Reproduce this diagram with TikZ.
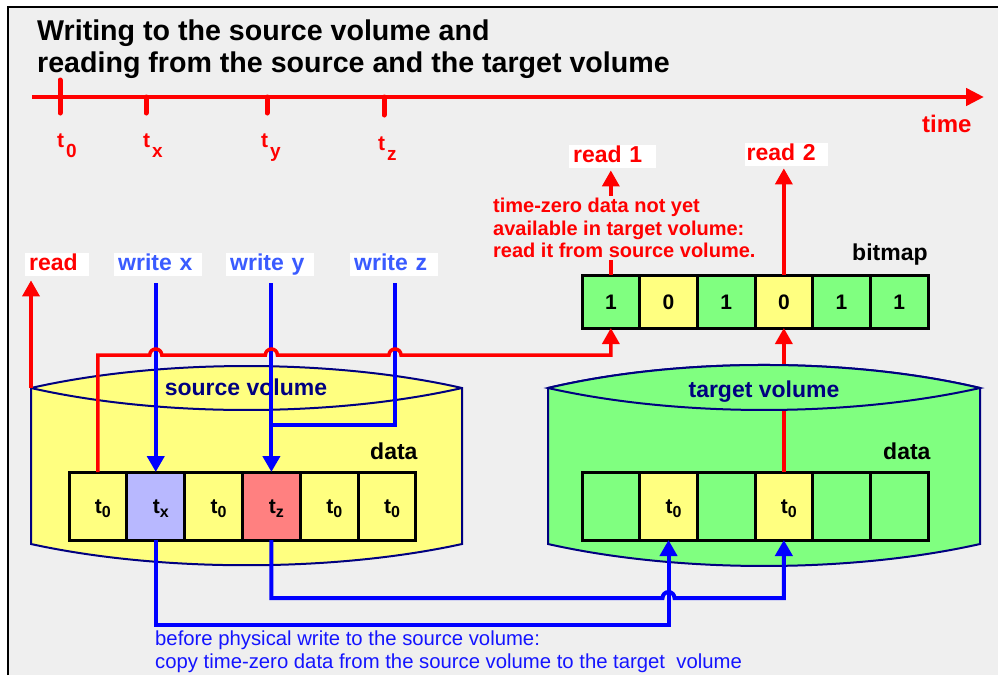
\documentclass[tikz,border=0pt]{standalone}
\usepackage{fontspec}
\setmainfont{Liberation Sans}
\usetikzlibrary{arrows.meta,calc}

\definecolor{pagebg}{HTML}{EFEFEF}
\definecolor{hotred}{HTML}{FF0000}
\definecolor{wireblue}{HTML}{0000FF}
\definecolor{tagblue}{HTML}{3A5BFF}
\definecolor{textblue}{HTML}{1414FF}
\definecolor{drumline}{HTML}{000080}
\definecolor{paleyellow}{HTML}{FFFF80}
\definecolor{palegreen}{HTML}{80FF80}
\definecolor{lavender}{HTML}{B8B8FF}
\definecolor{salmon}{HTML}{FF8080}

\newcommand\fsz[2]{\fontsize{#1pt}{#2pt}\selectfont}
% cell label: "t" with a lowered index
\newcommand\cellt[1]{\kern10pt t\raisebox{-4pt}{\fsz{16}{16}#1}}
% time-line label: "t" with a strongly lowered index
\newcommand\tickt[1]{t\kern2pt\raisebox{-10pt}{\fsz{19}{19}#1}}

\begin{document}
\begin{tikzpicture}[x=1pt,y=-1pt,
  tag/.style={fill=white, anchor=north west, inner xsep=4pt, inner ysep=1pt,
    text height=16.5pt, text depth=4.5pt, align=left, font=\bfseries\fsz{23}{23}},
  cell/.style={draw=black, line width=3pt, inner sep=0pt, outer sep=0pt,
    minimum height=68pt, text height=15pt, text depth=0pt, font=\bfseries\fsz{21}{21}},
  bitcell/.style={cell, minimum height=53pt, minimum width=57.67pt},
  srccell/.style={cell, minimum width=57.83pt},
  tgtcell/.style={cell, minimum width=57.67pt},
  drum/.style={draw=drumline, line width=2pt},
  redwire/.style={draw=hotred, line width=3.5pt},
  bluewire/.style={draw=wireblue, line width=4pt},
  redarrow/.style={redwire, -{Triangle[length=16pt,width=17pt]}},
  bluearrow/.style={bluewire, -{Triangle[length=16pt,width=17pt]}},
  ticker/.style={draw=hotred, line width=5pt, line cap=round},
  txt/.style={inner sep=0pt, anchor=base west},
]
\useasboundingbox (0,0) rectangle (998,675);
\fill[white] (0,0) rectangle (998,675);
\fill[pagebg] (8,7) rectangle (998,675);
\draw[black, line width=2pt] (8,675) -- (8,7) -- (998,7);

% heading
\node[txt, font=\bfseries\fsz{28.6}{28.6}] (head1) at (37,40) {Writing to the source volume and};
\node[txt, font=\bfseries\fsz{28.6}{28.6}] (head2) at (37,72.5) {reading from the source and the target volume};

% time line
\coordinate (tl0) at (32,97);
\coordinate (tl1) at (984,97);
\draw[draw=hotred, line width=4.5pt, -{Triangle[length=18pt,width=17pt]}] (tl0) -- (tl1);
\draw[ticker] (60,80) -- (60,113);
\draw[ticker] (146,97) -- (146,113);
\draw[ticker] (267,97) -- (267,113);
\draw[ticker] (384,97) -- (384,115);
\node[txt, text=hotred, font=\bfseries\fsz{21}{21}] (lt0) at (57,147) {\tickt{0}};
\node[txt, text=hotred, font=\bfseries\fsz{21}{21}] (ltx) at (143,147) {\tickt{x}};
\node[txt, text=hotred, font=\bfseries\fsz{21}{21}] (lty) at (261,147) {\tickt{y}};
\node[txt, text=hotred, font=\bfseries\fsz{21}{21}] (ltz) at (378,150) {\tickt{z}};
\node[txt, text=hotred, font=\bfseries\fsz{24}{24}] (ltime) at (922,132) {time};

% label tags
\node[tag, text=hotred, text width=56pt] (rdbox) at (25,253) {read};
\node[tag, text=tagblue, text width=80pt] (wxbox) at (114,253) {write x};
\node[tag, text=tagblue, text width=80pt] (wybox) at (226,253) {write y};
\node[tag, text=tagblue, text width=80pt] (wzbox) at (350,253) {write z};
\node[tag, text=hotred, text width=79pt, minimum height=22pt] (r1box) at (569,145) {read 1};
\node[tag, text=hotred, text width=80pt, inner xsep=1.5pt] (r2box) at (745,143) {read 2};

% source volume
\filldraw[drum, fill=paleyellow] (31,388) .. controls (160,358.7) and (333,358.7) .. (462,388)
  -- (462,544) .. controls (333,572.3) and (160,572.3) .. (31,544) -- cycle;
\draw[drum] (31,388) .. controls (160,417.3) and (333,417.3) .. (462,388);
\node[txt, anchor=base, text=drumline, font=\bfseries\fsz{23}{23}] (srcname) at (246,395) {source volume};
\node[txt, font=\bfseries\fsz{23}{23}] (srcdata) at (370,459) {data};

% target volume
\filldraw[drum, fill=palegreen] (548,388) .. controls (678,357.3) and (850,357.3) .. (980,388)
  -- (980,544) .. controls (850,573.3) and (678,573.3) .. (548,544) -- cycle;
\node[txt, font=\bfseries\fsz{23}{23}] (tgtdata) at (883,459) {data};

% source data cells
\node[srccell, fill=paleyellow] (s1) at ({69+57.83*0.5},506) {\cellt{0}};
\node[srccell, fill=lavender]   (s2) at ({69+57.83*1.5},506) {\cellt{x}};
\node[srccell, fill=paleyellow] (s3) at ({69+57.83*2.5},506) {\cellt{0}};
\node[srccell, fill=salmon]     (s4) at ({69+57.83*3.5},506) {\cellt{z}};
\node[srccell, fill=paleyellow] (s5) at ({69+57.83*4.5},506) {\cellt{0}};
\node[srccell, fill=paleyellow] (s6) at ({69+57.83*5.5},506) {\cellt{0}};

% target data cells
\node[tgtcell, fill=palegreen]  (t1) at ({582+57.67*0.5},506) {};
\node[tgtcell, fill=paleyellow] (t2) at ({582+57.67*1.5},506) {\cellt{0}};
\node[tgtcell, fill=palegreen]  (t3) at ({582+57.67*2.5},506) {};
\node[tgtcell, fill=paleyellow] (t4) at ({582+57.67*3.5},506) {\cellt{0}};
\node[tgtcell, fill=palegreen]  (t5) at ({582+57.67*4.5},506) {};
\node[tgtcell, fill=palegreen]  (t6) at ({582+57.67*5.5},506) {};

% bitmap
\node[bitcell, fill=palegreen]  (b1) at ({582+57.67*0.5},301.5) {1};
\node[bitcell, fill=paleyellow] (b2) at ({582+57.67*1.5},301.5) {0};
\node[bitcell, fill=palegreen]  (b3) at ({582+57.67*2.5},301.5) {1};
\node[bitcell, fill=paleyellow] (b4) at ({582+57.67*3.5},301.5) {0};
\node[bitcell, fill=palegreen]  (b5) at ({582+57.67*4.5},301.5) {1};
\node[bitcell, fill=palegreen]  (b6) at ({582+57.67*5.5},301.5) {1};
\node[txt, font=\bfseries\fsz{23}{23}] (bitname) at (852,260) {bitmap};

% levels of the horizontal runs
\coordinate (redbus) at (0,355);
\coordinate (zjoin) at (395,425);
\coordinate (lowA) at (0,598);
\coordinate (lowB) at (0,625);
\coordinate (srcTL) at (31,388);

% reads
\draw[redarrow, shorten >=4pt] (srcTL) -- (srcTL |- rdbox.south);
\draw[redarrow, shorten >=2pt] (b1.north) -- (b1.north |- r1box.south);
\draw[redarrow, shorten >=2pt] (b4.north) -- (b4.north |- r2box.south);

% writes
\draw[bluearrow, shorten <=7pt] (s2.north |- wxbox.south) -- (s2.north);
\draw[bluearrow, shorten <=7pt] (s4.north |- wybox.south) -- (s4.north);
\draw[bluewire, shorten <=7pt] (zjoin |- wzbox.south) -- (zjoin) -- (s4.north |- zjoin);

% source t0 block read through the bitmap, hopping over the write lines
\draw[redarrow] (s1.north) |- ($(s2.north |- redbus)+(-6,0)$)
  arc[start angle=180, end angle=360, radius=6]
  -- ($(s4.north |- redbus)+(-6,0)$)
  arc[start angle=180, end angle=360, radius=6]
  -- ($(zjoin |- redbus)+(-6,0)$)
  arc[start angle=180, end angle=360, radius=6]
  -| (b1.south);

% target t0 block reported to the bitmap
\draw[redarrow] (t4.north) -- (b4.south);
\filldraw[drum, fill=palegreen] (548,388) .. controls (678,357.3) and (850,357.3) .. (980,388)
  .. controls (850,417.3) and (678,417.3) .. (548,388) -- cycle;
\node[txt, anchor=base, text=drumline, font=\bfseries\fsz{23}{23}] (tgtname) at (764,397) {target volume};

% copy-on-write paths
\draw[bluearrow] (s2.south) -- (s2.south |- lowB) -| (t2.south);
\draw[bluearrow] (s4.south) -- (s4.south |- lowA)
  -- ($(t2.south |- lowA)+(-6,0)$)
  arc[start angle=180, end angle=360, radius=6]
  -| (t4.south);

% notes
\node[anchor=north west, fill=pagebg, inner sep=2pt, align=left, text=hotred,
  font=\bfseries\fsz{20}{22.5}] (note1) at (491,196)
  {time-zero data not yet\\available in target volume:\\read it from source volume.};
\node[anchor=north west, inner sep=0pt, align=left, text=textblue,
  font=\fsz{20.3}{23}] (note2) at (155,631)
  {before physical write to the source volume:\\copy time-zero data from the source volume to the target~ volume};
\end{tikzpicture}
\end{document}
